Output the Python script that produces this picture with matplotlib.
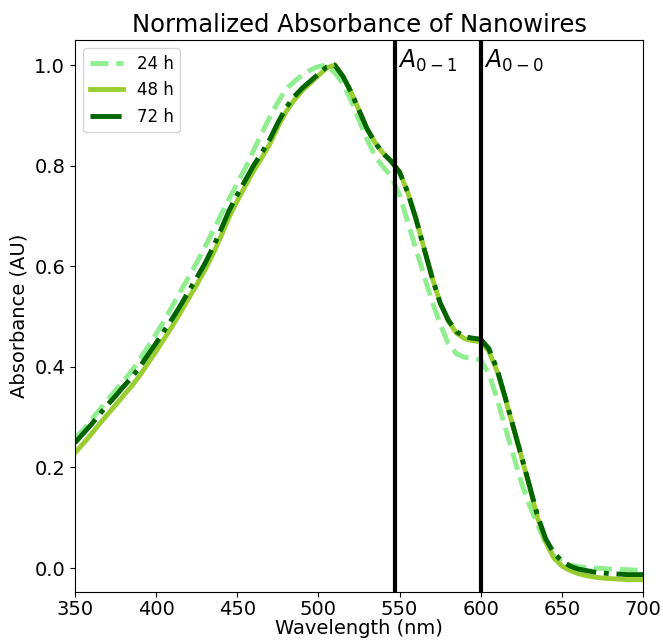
import numpy as np
import matplotlib
matplotlib.use("Agg")
import matplotlib.pyplot as plt

# wavelength grid (nm)
wavelength = np.arange(350, 705, 5)

abs_24h = [0.258, 0.274, 0.294, 0.314, 0.334, 0.353, 0.372, 0.392, 0.415, 0.440,
           0.465, 0.492, 0.521, 0.550, 0.578, 0.607, 0.638, 0.670, 0.702, 0.734,
           0.765, 0.795, 0.830, 0.864, 0.896, 0.926, 0.952, 0.967, 0.980, 0.990,
           0.997, 1.000, 0.985, 0.964, 0.930, 0.890, 0.852, 0.818, 0.797, 0.778,
           0.742, 0.688, 0.635, 0.582, 0.530, 0.485, 0.446, 0.426, 0.419, 0.417,
           0.414, 0.386, 0.337, 0.280, 0.225, 0.170, 0.125, 0.086, 0.050, 0.024,
           0.012, 0.006, 0.003, 0.001, 0.000, -0.001, -0.002, -0.003, -0.003, -0.004,
           -0.004]

abs_48h = [0.229, 0.247, 0.266, 0.286, 0.305, 0.324, 0.343, 0.362, 0.383, 0.407,
           0.431, 0.456, 0.481, 0.508, 0.536, 0.563, 0.592, 0.624, 0.660, 0.698,
           0.730, 0.760, 0.789, 0.815, 0.843, 0.877, 0.907, 0.930, 0.949, 0.964,
           0.979, 0.994, 1.000, 0.978, 0.947, 0.910, 0.873, 0.845, 0.824, 0.808,
           0.787, 0.747, 0.695, 0.636, 0.578, 0.527, 0.491, 0.467, 0.456, 0.452,
           0.450, 0.431, 0.392, 0.338, 0.280, 0.222, 0.162, 0.100, 0.052, 0.020,
           0.004, -0.005, -0.011, -0.015, -0.018, -0.020, -0.021, -0.022, -0.023, -0.023,
           -0.023]

abs_72h = [0.249, 0.267, 0.285, 0.305, 0.324, 0.342, 0.361, 0.379, 0.400, 0.424,
           0.447, 0.472, 0.496, 0.522, 0.550, 0.577, 0.605, 0.637, 0.673, 0.711,
           0.742, 0.771, 0.800, 0.825, 0.852, 0.885, 0.915, 0.937, 0.954, 0.968,
           0.982, 0.996, 1.000, 0.978, 0.947, 0.910, 0.873, 0.845, 0.824, 0.808,
           0.787, 0.747, 0.695, 0.636, 0.578, 0.527, 0.493, 0.470, 0.460, 0.457,
           0.455, 0.436, 0.396, 0.340, 0.281, 0.223, 0.164, 0.104, 0.058, 0.030,
           0.014, 0.004, -0.002, -0.005, -0.008, -0.010, -0.011, -0.012, -0.013, -0.013,
           -0.013]

peak_lines = [547, 600]
peak_labels = ["$A_{0-1}$", "$A_{0-0}$"]

fig = plt.figure(figsize=(6.63, 6.43), dpi=100)
ax = fig.add_axes([0.113, 0.079, 0.857, 0.859])

ax.plot(wavelength, abs_24h, color="lightgreen", ls="--", lw=3.5, label="24 h")
ax.plot(wavelength, abs_48h, color="yellowgreen", ls="-", lw=3.5, label="48 h")
ax.plot(wavelength, abs_72h, color="darkgreen", ls="-.", lw=3.5, label="72 h")

for xv, lab in zip(peak_lines, peak_labels):
    ax.axvline(xv, color="black", lw=3)
    ax.text(xv + 2, 0.995, lab, fontsize=17, va="baseline")

ax.set_xlim(350, 700)
ax.set_ylim(-0.048, 1.05)
ax.set_xticks(np.arange(350, 701, 50))
ax.set_yticks(np.arange(0, 1.01, 0.2))
ax.tick_params(labelsize=14)
ax.tick_params(axis="x", pad=2)
ax.set_xlabel("Wavelength (nm)", fontsize=14, labelpad=0)
ax.set_ylabel("Absorbance (AU)", fontsize=14)
ax.set_title("Normalized Absorbance of Nanowires", fontsize=17.5)
ax.legend(loc="upper left", fontsize=12)

fig.savefig("out.png", dpi=100)
